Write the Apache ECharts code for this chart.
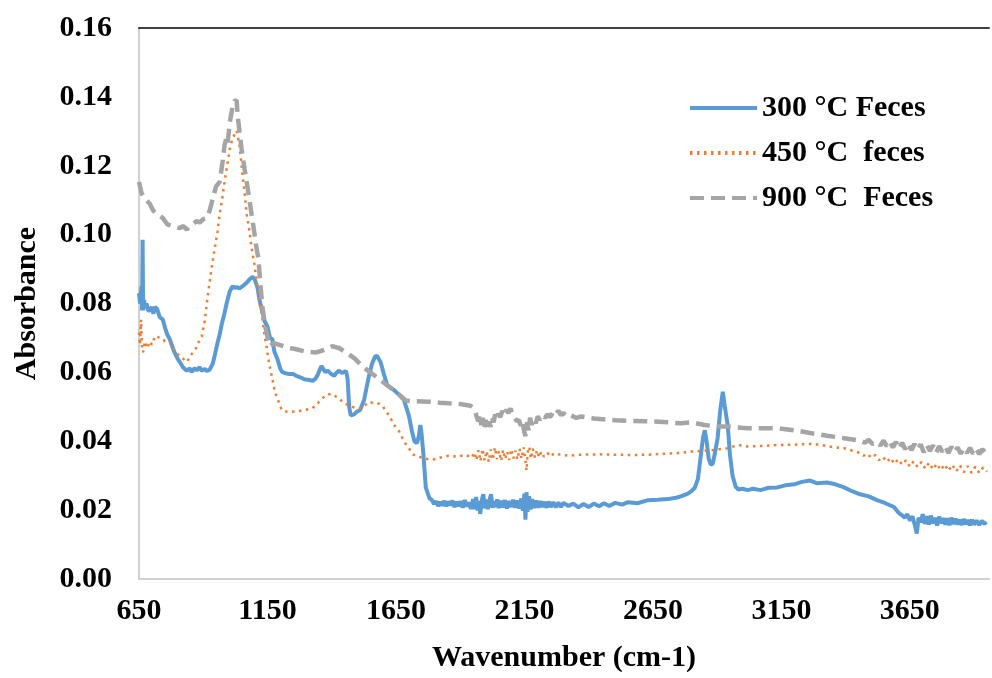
<!DOCTYPE html>
<html>
<head>
<meta charset="utf-8">
<script src="https://cdn.jsdelivr.net/npm/echarts@6/dist/echarts.min.js"></script>
<style>
  html, body { margin: 0; padding: 0; background: #fff; }
  #chart { width: 992px; height: 678px; }
</style>
</head>
<body>
<div id="chart"></div>
<script>
  // series names as in the legend
  const seriesNames = ['300 °C Feces', '450 °C  feces', '900 °C  Feces']

  // 300 °C feces
  const wn300 = [650, 654, 660, 662, 664, 666, 670, 673, 680, 685, 693, 700, 706, 712, 720, 731, 743, 751, 760, 770,
    782, 790, 800, 809, 821, 836, 848, 855, 866, 875, 886, 894, 906, 914, 925, 937, 945, 956, 964, 972,
    983, 991, 1003, 1014, 1022, 1030, 1041, 1049, 1061, 1069, 1080, 1092, 1100, 1111, 1119, 1131, 1138, 1150, 1160, 1169,
    1177, 1189, 1200, 1208, 1216, 1235, 1250, 1262, 1280, 1293, 1313, 1324, 1335, 1345, 1352, 1360, 1367, 1375, 1385, 1398,
    1410, 1417, 1429, 1440, 1456, 1462, 1468, 1474, 1487, 1500, 1510, 1526, 1534, 1545, 1557, 1568, 1576, 1590, 1603, 1615,
    1625, 1640, 1662, 1681, 1700, 1712, 1722, 1732, 1739, 1745, 1750, 1757, 1766, 1780,
    1790, 1798, 1806, 1814, 1822, 1830, 1838, 1846, 1854, 1862, 1870, 1878, 1886, 1894, 1902, 1910, 1918, 1926, 1934, 1942,
    1950, 1956, 1962, 1968, 1974, 1978, 1984, 1990, 1996, 2002, 2008, 2014, 2020, 2026, 2032, 2038, 2044, 2050, 2058, 2066,
    2074, 2082, 2090, 2098, 2106, 2114, 2122, 2130, 2138, 2144, 2150, 2154, 2158, 2162, 2168, 2174, 2180, 2188, 2196, 2204,
    2212, 2220, 2228, 2236, 2244, 2252, 2262, 2272, 2282, 2292, 2302, 2321, 2340, 2360, 2380, 2400, 2420, 2440, 2460, 2480,
    2503, 2530, 2553, 2590, 2631, 2670, 2708, 2740, 2759,
    2786, 2800, 2813, 2825, 2835, 2845, 2852, 2860, 2867, 2875, 2883, 2890, 2902, 2912, 2922, 2930, 2941, 2950, 2960, 2972,
    2983, 2999, 3018, 3040, 3069, 3100, 3134, 3165, 3200, 3230, 3262, 3290, 3328, 3360, 3394, 3425, 3456, 3490, 3522, 3555,
    3588, 3600, 3610, 3620, 3630, 3640, 3650, 3660, 3670, 3677, 3684, 3692, 3700, 3708, 3716, 3724, 3732, 3740, 3748, 3756,
    3764, 3772, 3780, 3788, 3796, 3804, 3812, 3820, 3828, 3836, 3844, 3852, 3860, 3868, 3876, 3884, 3892, 3900, 3910, 3920,
    3930, 3940, 3948]
  const abs300 = [0.083, 0.080, 0.085, 0.078, 0.0985, 0.078, 0.081, 0.079, 0.080, 0.078, 0.078, 0.079, 0.077, 0.079, 0.0785, 0.076, 0.0753, 0.073, 0.071, 0.0696,
    0.067, 0.0655, 0.064, 0.063, 0.0615, 0.0605, 0.0612, 0.0601, 0.0612, 0.0606, 0.0615, 0.0605, 0.0610, 0.0604, 0.0608, 0.0625, 0.065, 0.0687, 0.071, 0.074,
    0.0773, 0.080, 0.0835, 0.085, 0.0845, 0.0848, 0.0844, 0.0848, 0.0855, 0.086, 0.087, 0.0878, 0.087, 0.0847, 0.081, 0.0773, 0.075, 0.0733, 0.070, 0.0696,
    0.066, 0.0638, 0.061, 0.0601, 0.0598, 0.0595, 0.0595, 0.059, 0.0585, 0.058, 0.0578, 0.0575, 0.058, 0.0592, 0.0605, 0.0618, 0.061, 0.0601, 0.0605, 0.0595,
    0.059, 0.0598, 0.0605, 0.0598, 0.0604, 0.058, 0.050, 0.0475, 0.0478, 0.0487, 0.049, 0.052, 0.055, 0.059, 0.0625, 0.0645, 0.0648, 0.063, 0.0595, 0.0565,
    0.0558, 0.055, 0.0535, 0.052, 0.0475, 0.043, 0.040, 0.0395, 0.0415, 0.0447, 0.042, 0.036, 0.0266, 0.0235,
    0.0229, 0.0218, 0.0226, 0.0212, 0.0224, 0.0213, 0.0227, 0.0211, 0.0225, 0.0214, 0.0228, 0.0209, 0.0224, 0.0212, 0.0226, 0.0207, 0.0229, 0.0211, 0.0222, 0.0204,
    0.0232, 0.0203, 0.0238, 0.0199, 0.0227, 0.0189, 0.0229, 0.0246, 0.0205, 0.0231, 0.0203, 0.0228, 0.0246, 0.0207, 0.0226, 0.0209, 0.0231, 0.0206, 0.0227, 0.0208,
    0.0229, 0.0205, 0.0226, 0.0209, 0.0230, 0.0207, 0.0228, 0.0205, 0.0234, 0.0198, 0.0248, 0.0172, 0.0252, 0.0195, 0.0240, 0.0202, 0.0232, 0.0206, 0.0228, 0.0207,
    0.0226, 0.0209, 0.0224, 0.0207, 0.0225, 0.0209, 0.0223, 0.0208, 0.0222, 0.0209, 0.0221, 0.0212, 0.0219, 0.0208, 0.0218, 0.0209, 0.0219, 0.0211, 0.022, 0.0212,
    0.0221, 0.0216, 0.0223, 0.022, 0.0229, 0.023, 0.0232, 0.0236, 0.024,
    0.0248, 0.0255, 0.0265, 0.029, 0.035, 0.041, 0.0432, 0.0395, 0.035, 0.0332, 0.0335, 0.036, 0.041, 0.049, 0.0544, 0.050, 0.0447, 0.036, 0.030, 0.0268,
    0.026, 0.0262, 0.0258, 0.0262, 0.0258, 0.0265, 0.0266, 0.0272, 0.0275, 0.0282, 0.0286, 0.0278, 0.028, 0.0275, 0.0266, 0.0255, 0.0246, 0.024, 0.0229, 0.022,
    0.0209, 0.0198, 0.019, 0.0185, 0.0178, 0.0188, 0.017, 0.0182, 0.0155, 0.0132, 0.0178, 0.0165, 0.0188, 0.016, 0.0182, 0.0158, 0.0184, 0.0162, 0.0178, 0.0155,
    0.0181, 0.0162, 0.0177, 0.0158, 0.0176, 0.0156, 0.0178, 0.016, 0.0175, 0.0158, 0.0172, 0.0157, 0.0174, 0.0159, 0.0171, 0.0156, 0.0172, 0.0158, 0.017, 0.0157,
    0.0169, 0.016, 0.0166]

  // 450 °C feces
  const wn450 = [650, 654, 658, 662, 666, 673, 680, 685, 693, 700, 712, 720, 731, 743, 751, 760, 770, 782, 790, 809,
    821, 836, 848, 859, 872, 886, 894, 906, 917, 930, 945, 956, 964, 975, 983, 995, 1003, 1014, 1030, 1041,
    1049, 1061, 1069, 1080, 1088, 1100, 1107, 1119, 1127, 1138, 1146, 1158, 1169, 1180, 1189, 1200, 1208, 1230, 1262, 1290,
    1324, 1345, 1363, 1380, 1398, 1417, 1429, 1448, 1468, 1490, 1507, 1530, 1545, 1565, 1584, 1600, 1623, 1645, 1662, 1681,
    1700, 1715, 1728, 1760, 1790, 1820, 1855, 1890, 1921,
    1945, 1955, 1963, 1971, 1979, 1987, 1995, 2003, 2011, 2019, 2027, 2035, 2043, 2051, 2059, 2067, 2075, 2083, 2091, 2099,
    2107, 2115, 2123, 2131, 2139, 2147, 2153, 2158, 2163, 2169, 2175, 2183, 2191, 2199, 2207, 2216, 2226, 2240, 2252, 2264,
    2282, 2320, 2371, 2437, 2503, 2570, 2631,
    2700, 2759, 2800, 2850, 2890, 2940, 2983, 3018, 3069, 3134, 3200, 3262, 3300, 3328, 3360, 3394, 3430,
    3456, 3470, 3485, 3500, 3515, 3530, 3545, 3560, 3575, 3590, 3605, 3620, 3635, 3650, 3665, 3680, 3695, 3710, 3725, 3740,
    3755, 3770, 3785, 3800, 3815, 3830, 3845, 3860, 3875, 3890, 3905, 3920, 3935, 3950]
  const abs450 = [0.0716, 0.068, 0.0753, 0.067, 0.0658, 0.069, 0.067, 0.0676, 0.069, 0.068, 0.0704, 0.0706, 0.0698, 0.0696, 0.069, 0.0688, 0.0687, 0.067, 0.066, 0.0647,
    0.064, 0.063, 0.0645, 0.0658, 0.067, 0.0695, 0.0704, 0.075, 0.0819, 0.089, 0.0962, 0.101, 0.1059, 0.111, 0.1153, 0.121, 0.1248, 0.128, 0.1302, 0.126,
    0.1202, 0.112, 0.1059, 0.101, 0.0962, 0.091, 0.0867, 0.080, 0.0773, 0.071, 0.0676, 0.062, 0.0581, 0.054, 0.0524, 0.050, 0.0489, 0.0485, 0.0487, 0.049,
    0.0495, 0.051, 0.0524, 0.0535, 0.0538, 0.053, 0.0524, 0.051, 0.0504, 0.0497, 0.0495, 0.0505, 0.0515, 0.051, 0.0509, 0.050, 0.0475, 0.0445, 0.0429, 0.040,
    0.038, 0.0362, 0.0358, 0.035, 0.0346, 0.0352, 0.0358, 0.0355, 0.0361,
    0.0352, 0.0368, 0.0345, 0.0374, 0.0342, 0.0378, 0.0344, 0.0372, 0.034, 0.0376, 0.0346, 0.0382, 0.0348, 0.0372, 0.0343, 0.0375, 0.0348, 0.037, 0.0346, 0.0377,
    0.035, 0.0372, 0.0347, 0.0378, 0.0349, 0.0382, 0.035, 0.0315, 0.0368, 0.0384, 0.0349, 0.0378, 0.0352, 0.0374, 0.0353, 0.037, 0.0355, 0.0366, 0.0355, 0.0365,
    0.0362, 0.0358, 0.0361, 0.0362, 0.0361, 0.036, 0.0361,
    0.0364, 0.0366, 0.037, 0.0372, 0.0375, 0.038, 0.0389, 0.0385, 0.0386, 0.0389, 0.039, 0.0392, 0.039, 0.0386, 0.0382, 0.038, 0.0372,
    0.0366, 0.0358, 0.0364, 0.0352, 0.036, 0.0345, 0.0355, 0.034, 0.0352, 0.0334, 0.0348, 0.0332, 0.0345, 0.0326, 0.0342, 0.0325, 0.034, 0.032, 0.0338, 0.0318,
    0.0335, 0.0316, 0.0333, 0.0314, 0.0332, 0.0312, 0.033, 0.031, 0.0328, 0.0308, 0.0326, 0.0308, 0.0324, 0.0312]

  // 900 °C feces
  const wn900 = [650, 660, 673, 685, 693, 705, 720, 743, 760, 780, 809, 821, 836, 848, 859, 875, 886, 900, 914, 925,
    937, 950, 964, 975, 983, 990, 995, 1003, 1014, 1022, 1030, 1034, 1041, 1049, 1061, 1069, 1080, 1088, 1100, 1107,
    1115, 1119, 1130, 1140, 1146, 1158, 1175, 1197, 1230, 1262, 1300, 1340, 1370, 1402, 1430, 1456, 1490, 1518, 1550, 1584,
    1620, 1650, 1689, 1720, 1778, 1820, 1856, 1900, 1940,
    1950, 1958, 1964, 1970, 1976, 1982, 1988, 1994, 2000, 2006, 2012, 2018, 2024, 2030, 2036, 2042, 2048, 2056, 2064, 2072,
    2080, 2088, 2096, 2104, 2112, 2120, 2128, 2136, 2142, 2148, 2154, 2160, 2166, 2172, 2178, 2186, 2194, 2202, 2210, 2220,
    2230, 2240, 2250, 2260, 2270, 2282, 2292, 2302, 2315, 2330, 2350, 2371,
    2420, 2470, 2503, 2553, 2631, 2708, 2759, 2800, 2850, 2890, 2950, 3018, 3069, 3134, 3200, 3262, 3328, 3394,
    3456, 3475, 3490, 3505, 3522, 3535, 3548, 3560, 3572, 3584, 3596, 3608, 3620, 3632, 3644, 3656, 3668, 3680, 3692, 3704,
    3716, 3728, 3740, 3752, 3764, 3776, 3788, 3800, 3812, 3824, 3836, 3848, 3860, 3872, 3884, 3896, 3908, 3920, 3932, 3944,
    3952]
  const abs900 = [0.1153, 0.112, 0.1105, 0.1095, 0.1088, 0.107, 0.106, 0.1048, 0.103, 0.1025, 0.1019, 0.1025, 0.1015, 0.1025, 0.103, 0.104, 0.1035, 0.1045, 0.1048, 0.107,
    0.1105, 0.114, 0.1153, 0.121, 0.126, 0.128, 0.1265, 0.1325, 0.137, 0.1388, 0.139, 0.1345, 0.130, 0.125, 0.119, 0.1153, 0.110, 0.106, 0.100, 0.0962,
    0.093, 0.0887, 0.079, 0.074, 0.0716, 0.0676, 0.0685, 0.068, 0.0672, 0.0667, 0.066, 0.0658, 0.0665, 0.0676, 0.067, 0.0658, 0.064, 0.0618, 0.060, 0.0581,
    0.056, 0.0544, 0.0518, 0.0516, 0.0515, 0.0512, 0.051, 0.0508, 0.0503,
    0.0497, 0.0488, 0.0472, 0.0458, 0.0475, 0.0447, 0.0468, 0.044, 0.0462, 0.0432, 0.0458, 0.0442, 0.0468, 0.0455, 0.0478, 0.0466, 0.048, 0.047, 0.0488, 0.0476,
    0.0492, 0.0482, 0.0495, 0.0478, 0.047, 0.0458, 0.0462, 0.0445, 0.046, 0.0432, 0.0415, 0.0455, 0.0432, 0.0468, 0.0448, 0.0465, 0.0452, 0.0472, 0.0462, 0.0476,
    0.0468, 0.0478, 0.047, 0.0482, 0.0474, 0.0489, 0.0476, 0.0482, 0.0472, 0.0476, 0.0468, 0.0472,
    0.0466, 0.0463, 0.0461, 0.0459, 0.0458, 0.0455, 0.0452, 0.0455, 0.0447, 0.0444, 0.0442, 0.0438, 0.0438, 0.0438, 0.0432, 0.0424, 0.0416, 0.0409,
    0.0402, 0.0396, 0.0404, 0.0392, 0.0398, 0.0388, 0.0402, 0.0386, 0.0399, 0.0382, 0.0398, 0.0378, 0.0396, 0.0377, 0.0394, 0.0374, 0.0392, 0.0375, 0.0391, 0.0368,
    0.0389, 0.0372, 0.0388, 0.0366, 0.0386, 0.037, 0.0385, 0.0366, 0.0384, 0.0368, 0.0382, 0.0364, 0.038, 0.0366, 0.0381, 0.0364, 0.0378, 0.0363, 0.0377, 0.0366,
    0.0372]

  // axis ticks
  const xMin = 650
  const xMax = 3958
  const xStep = 500
  const yMin = 0
  const yMax = 0.16
  const yStep = 0.02

  const font = "'Liberation Serif', 'Times New Roman', serif"

  function zip (xs, ys) {
    return xs.map((x, i) => [x, ys[i]])
  }

  let myChart = echarts.init(document.getElementById('chart'))
  myChart.setOption({
    animation: false,
    backgroundColor: '#fff',
    grid: {
      left: 139,
      top: 28,
      right: 0,
      bottom: 95
    },
    legend: {
      orient: 'vertical',
      left: 683,
      top: 88,
      itemWidth: 67,
      itemHeight: 14,
      itemGap: 15,
      data: seriesNames,
      itemStyle: { opacity: 0 },
      lineStyle: { width: 4 },
      textStyle: {
        fontFamily: font,
        fontWeight: 'bold',
        fontSize: 30,
        lineHeight: 30,
        color: '#000'
      }
    },
    xAxis: [
      {
        type: 'value',
        min: xMin,
        max: xMax,
        interval: xStep,
        name: 'Wavenumber (cm-1)',
        nameLocation: 'middle',
        nameGap: 64,
        nameTextStyle: { fontFamily: font, fontWeight: 'bold', fontSize: 30, color: '#000' },
        axisLine: { lineStyle: { color: '#d0d0d0', width: 2 } },
        axisTick: { show: false },
        splitLine: { show: false },
        axisLabel: {
          margin: 17,
          fontFamily: font,
          fontWeight: 'bold',
          fontSize: 30,
          color: '#000',
          formatter: (v) => ((v - xMin) % xStep === 0 ? String(v) : '')
        }
      },
      {
        type: 'value',
        position: 'top',
        min: xMin,
        max: xMax,
        axisLine: { show: true, lineStyle: { color: '#404040', width: 2 } },
        axisTick: { show: false },
        axisLabel: { show: false },
        splitLine: { show: false }
      }
    ],
    yAxis: {
      type: 'value',
      min: yMin,
      max: yMax,
      interval: yStep,
      name: 'Absorbance',
      nameLocation: 'middle',
      nameGap: 97,
      nameTextStyle: { fontFamily: font, fontWeight: 'bold', fontSize: 30, color: '#000' },
      axisLine: { show: true, lineStyle: { color: '#d0d0d0', width: 2 } },
      axisTick: { show: false },
      splitLine: { show: false },
      axisLabel: {
        margin: 27,
        fontFamily: font,
        fontWeight: 'bold',
        fontSize: 30,
        color: '#000',
        formatter: (v) => v.toFixed(2)
      }
    },
    series: [
      {
        name: seriesNames[0],
        type: 'line',
        symbol: 'none',
        data: zip(wn300, abs300),
        lineStyle: { color: '#5B9BD5', width: 4 },
        itemStyle: { color: '#5B9BD5' }
      },
      {
        name: seriesNames[1],
        type: 'line',
        symbol: 'none',
        data: zip(wn450, abs450),
        lineStyle: { color: '#ED7D31', width: 2.5, type: [2.5, 4.5] },
        itemStyle: { color: '#ED7D31' }
      },
      {
        name: seriesNames[2],
        type: 'line',
        symbol: 'none',
        data: zip(wn900, abs900),
        lineStyle: { color: '#A5A5A5', width: 4.5, type: [14, 7] },
        itemStyle: { color: '#A5A5A5' }
      }
    ]
  })
</script>
</body>
</html>
